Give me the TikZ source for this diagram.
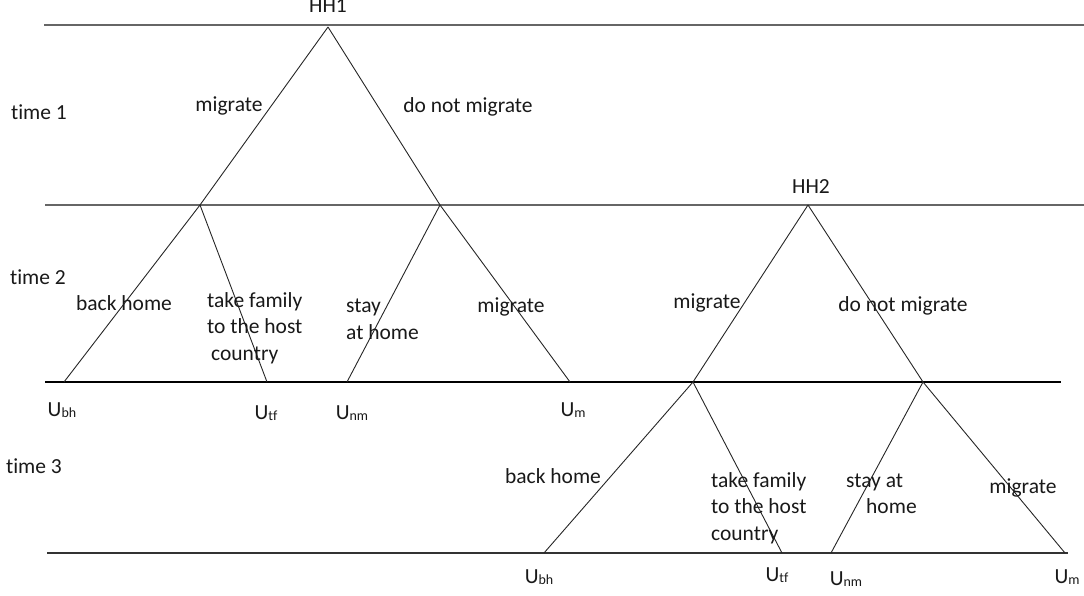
\documentclass[tikz,border=0pt]{standalone}
\usepackage{fontspec}
\setmainfont[Ligatures=NoCommon]{Carlito}
\usepackage{tikz}
\tikzstyle{timeline} = [draw, black!60, line width=1.5pt]
\tikzstyle{branch} = [draw, black!85, line width=0.9pt]
\tikzstyle{choice} = [inner sep=0pt, text=black!90, font=\fontsize{21.5}{26.5}\selectfont]
\tikzstyle{payoff} = [inner sep=0pt, text=black!90, font=\fontsize{21.5}{26.5}\selectfont]
\newcommand{\util}[1]{U\raisebox{-1pt}{\fontsize{14}{14}\selectfont #1}}

\begin{document}
\begin{tikzpicture}[x=1pt, y=-1pt]
    \useasboundingbox (0,0) rectangle (1084,596);

    % time periods
    \path[timeline] (44,25) -- (1084,25);
    \path[timeline] (45,205) -- (1084,205);
    \path[draw, black, line width=1.2pt] (45,382) -- (1061,382);
    \path[draw, black!80, line width=1.4pt] (47,553) -- (1068,553);
    \node[choice](t1) at (39,112) {time 1};
    \node[choice](t2) at (38,277) {time 2};
    \node[choice](t3) at (34,466) {time 3};

    % household 1
    \coordinate (hh1) at (328,27);
    \coordinate (m1) at (200,205);
    \coordinate (s1) at (440,205);
    \coordinate (m1bh) at (64,382);
    \coordinate (m1tf) at (267,382);
    \coordinate (s1nm) at (347,382);
    \coordinate (s1m) at (570,382);
    \node[choice](hh1lab) at (328,6) {HH1};

    \path[branch] (hh1) -- (m1);
    \path[branch] (hh1) -- (s1);
    \path[branch] (m1) -- (m1bh);
    \path[branch] (m1) -- (m1tf);
    \path[branch] (s1) -- (s1nm);
    \path[branch] (s1) -- (s1m);

    \node[choice](hh1m) at (229,106) {migrate};
    \node[choice](hh1s) at (468,107) {do not migrate};
    \node[choice](m1b) at (124,303) {back home};
    \node[choice, anchor=west, align=left](m1t) at (207,328) {take family\\to the host\\\hspace*{4pt}country};
    \node[choice, anchor=west, align=left](s1n) at (346,319.5) {stay\\at home};
    \node[choice](s1g) at (511,307) {migrate};

    \node[payoff](u1bh) at (62,410) {\util{bh}};
    \node[payoff](u1tf) at (266,413) {\util{tf}};
    \node[payoff](u1nm) at (352,413) {\util{nm}};
    \node[payoff](u1m) at (573,410) {\util{m}};

    % household 2
    \coordinate (hh2) at (808,205);
    \coordinate (m2) at (693,382);
    \coordinate (s2) at (923,382);
    \coordinate (m2bh) at (544,553);
    \coordinate (m2tf) at (782,553);
    \coordinate (s2nm) at (831,553);
    \coordinate (s2m) at (1065,553);
    \node[choice](hh2lab) at (811,187) {HH2};

    \path[branch] (hh2) -- (m2);
    \path[branch] (hh2) -- (s2);
    \path[branch] (m2) -- (m2bh);
    \path[branch] (m2) -- (m2tf);
    \path[branch] (s2) -- (s2nm);
    \path[branch] (s2) -- (s2m);

    \node[choice](hh2m) at (707,303) {migrate};
    \node[choice](hh2s) at (903,306) {do not migrate};
    \node[choice](m2b) at (553,476) {back home};
    \node[choice, anchor=west, align=left](m2t) at (711,508) {take family\\to the host\\country};
    \node[choice, anchor=west, align=left](s2n) at (846,494) {stay at\\\hspace*{20pt}home};
    \node[choice](s2g) at (1023,488) {migrate};

    \node[payoff](u2bh) at (539,577) {\util{bh}};
    \node[payoff](u2tf) at (777,575) {\util{tf}};
    \node[payoff](u2nm) at (846,579) {\util{nm}};
    \node[payoff](u2m) at (1067,577) {\util{m}};
\end{tikzpicture}
\end{document}
